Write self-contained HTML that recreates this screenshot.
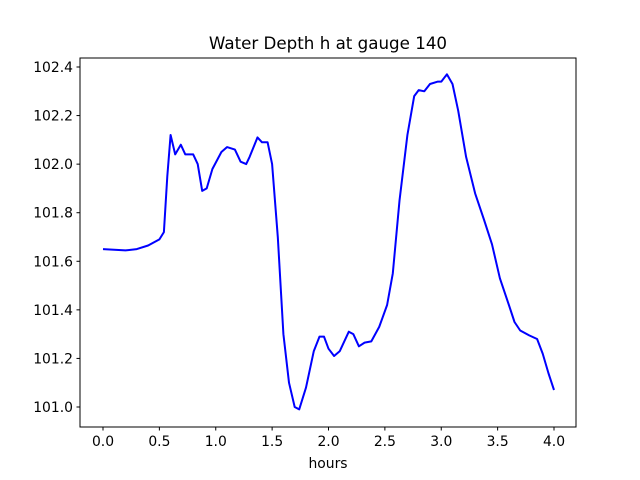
<!DOCTYPE html>
<html><head><meta charset="utf-8"><style>
body{margin:0;background:#fff}
svg{display:block;font-family:"DejaVu Sans",sans-serif}
</style></head><body>
<svg id="chart" width="640" height="480" xmlns="http://www.w3.org/2000/svg">
<rect width="640" height="480" fill="#fff"/>
<text x="328" y="49" font-size="16.7" text-anchor="middle">Water Depth h at gauge 140</text>
<g id="ticks"></g>
<path id="line" fill="none" stroke="#0000ff" stroke-width="2" stroke-linejoin="round"/>
<rect x="80" y="58" width="496" height="369" fill="none" stroke="#000" stroke-width="1"/>
<text x="328" y="468" font-size="13.9" text-anchor="middle">hours</text>
</svg>
<script>
const hours=[0,0.2,0.3,0.4,0.5,0.54,0.57,0.6,0.64,0.69,0.73,0.8,0.84,0.88,0.92,0.97,1.05,1.1,1.17,1.22,1.27,1.3,1.37,1.41,1.46,1.5,1.55,1.6,1.65,1.7,1.74,1.8,1.87,1.92,1.96,2.0,2.05,2.1,2.18,2.22,2.27,2.32,2.38,2.45,2.52,2.57,2.63,2.7,2.76,2.8,2.85,2.9,2.97,3.0,3.05,3.1,3.15,3.22,3.3,3.38,3.45,3.52,3.6,3.65,3.7,3.78,3.85,3.9,3.95,4.0];
const depth=[101.65,101.645,101.65,101.665,101.69,101.72,101.95,102.12,102.04,102.08,102.04,102.04,102.0,101.89,101.9,101.98,102.05,102.07,102.06,102.01,102.0,102.03,102.11,102.09,102.09,102.0,101.7,101.3,101.1,101.0,100.99,101.08,101.23,101.29,101.29,101.24,101.21,101.23,101.31,101.3,101.25,101.265,101.27,101.33,101.42,101.55,101.85,102.12,102.28,102.305,102.3,102.33,102.34,102.34,102.37,102.33,102.22,102.03,101.88,101.77,101.67,101.53,101.42,101.35,101.315,101.295,101.28,101.22,101.14,101.07];
const xTicks=["0.0","0.5","1.0","1.5","2.0","2.5","3.0","3.5","4.0"];
const yTicks=["101.0","101.2","101.4","101.6","101.8","102.0","102.2","102.4"];
const xs=v=>103+112.75*v;
const ys=v=>407-(v-101.0)*242.86;
const NS="http://www.w3.org/2000/svg";
const g=document.getElementById('ticks');
function mk(tag,attrs){const e=document.createElementNS(NS,tag);for(const k in attrs)e.setAttribute(k,attrs[k]);return e;}
xTicks.forEach(t=>{const x=xs(parseFloat(t));
const l=mk('line',{x1:x,x2:x,y1:427,y2:430.5,stroke:'#000'});


g.appendChild(l);
const tx=mk('text',{x:x,y:446,'font-size':'13.9','text-anchor':'middle'});tx.textContent=t;


g.appendChild(tx);});
yTicks.forEach(t=>{const y=ys(parseFloat(t));
const l=mk('line',{x1:76.5,x2:80,y1:y,y2:y,stroke:'#000'});


g.appendChild(l);
const tx=mk('text',{x:73,y:y+5,'font-size':'13.9','text-anchor':'end'});tx.textContent=t;


g.appendChild(tx);});
let d='';hours.forEach((h,i)=>{d+=(i?'L':'M')+xs(h).toFixed(1)+','+ys(depth[i]).toFixed(1);});
document.getElementById('line').setAttribute('d',d);
</script>
</body></html>
